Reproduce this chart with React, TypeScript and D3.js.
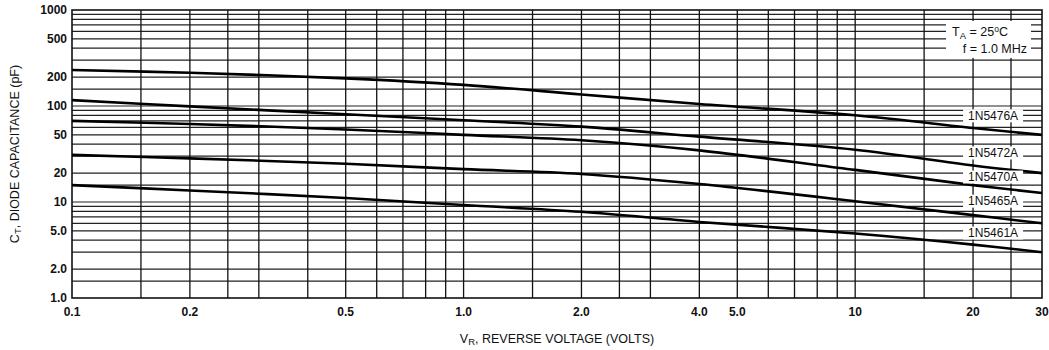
import { useEffect, useRef } from 'react';
import * as d3 from 'd3';

// reverse voltage sample points (volts)
const voltages = [0.1, 0.2, 0.5, 1.0, 2.0, 4.0, 10, 20, 30];

// capacitance (pF) per diode
const c1N5476A = [237, 222, 194, 166, 132, 105, 80, 59, 50];
const c1N5472A = [115, 99, 82, 71, 61, 48, 35, 24, 20];
const c1N5470A = [70, 65, 57, 50, 44, 34.5, 21.6, 15, 12.4];
const c1N5465A = [31, 28.5, 25, 22, 19.6, 15.4, 10.2, 7.3, 6.0];
const c1N5461A = [15, 13.2, 11, 9.3, 7.9, 6.2, 4.7, 3.6, 3.0];

const seriesNames = ['1N5476A', '1N5472A', '1N5470A', '1N5465A', '1N5461A'];
const seriesValues = [c1N5476A, c1N5472A, c1N5470A, c1N5465A, c1N5461A];
// where each curve's name sits (volts, pF)
const labelVolts = [22.5, 22.5, 22.5, 22.5, 22.5];
const labelCaps = [79, 32.4, 18.2, 10.2, 4.75];

const xTicks = [0.1, 0.2, 0.5, 1, 2, 4, 5, 10, 20, 30];
const xTickLabels = ['0.1', '0.2', '0.5', '1.0', '2.0', '4.0', '5.0', '10', '20', '30'];
const yTicks = [1000, 500, 200, 100, 50, 20, 10, 5, 2, 1];
const yTickLabels = ['1000', '500', '200', '100', '50', '20', '10', '5.0', '2.0', '1.0'];

const xGridMantissas = [1, 1.5, 2, 2.5, 3, 4, 5, 6, 7, 8, 9];
const yGridMantissas = [1, 1.5, 2, 3, 4, 5, 6, 7, 8, 9];

const width = 1049;
const height = 350;
const font = '"Liberation Sans", Arial, sans-serif';

export default function App() {
  const svgRef = useRef<SVGSVGElement>(null);

  useEffect(() => {
    if (!svgRef.current) return;
    d3.select(svgRef.current).selectAll('*').remove();

    const svg = d3.select(svgRef.current)
      .attr('width', width)
      .attr('height', height);

    svg.append('rect')
      .attr('width', width)
      .attr('height', height)
      .attr('fill', '#fff');

    const x = d3.scaleLog().domain([0.1, 30]).range([72, 1042]);
    const y = d3.scaleLog().domain([1, 1000]).range([298, 10]);

    // Grid
    const xGrid: number[] = [];
    [0.1, 1, 10].forEach(dec => xGridMantissas.forEach(m => {
      const v = +(m * dec).toPrecision(3);
      if (v > 0.1 && v < 30) xGrid.push(v);
    }));
    const yGrid: number[] = [];
    [1, 10, 100].forEach(dec => yGridMantissas.forEach(m => {
      const v = m * dec;
      if (v > 1 && v < 1000) yGrid.push(v);
    }));

    svg.append('g')
      .selectAll('line')
      .data(yGrid)
      .join('line')
      .attr('x1', 72)
      .attr('x2', 1042)
      .attr('y1', d => y(d))
      .attr('y2', d => y(d))
      .attr('stroke', '#222')
      .attr('stroke-width', 1.2);

    svg.append('g')
      .selectAll('line')
      .data(xGrid)
      .join('line')
      .attr('x1', d => x(d))
      .attr('x2', d => x(d))
      .attr('y1', 10)
      .attr('y2', 298)
      .attr('stroke', '#111')
      .attr('stroke-width', 1.3);

    // Frame
    svg.append('rect')
      .attr('x', 72)
      .attr('y', 10)
      .attr('width', 970)
      .attr('height', 288)
      .attr('fill', 'none')
      .attr('stroke', '#111')
      .attr('stroke-width', 1.6);

    // Curves
    const line = d3.line<number>()
      .x((_, i) => x(voltages[i]))
      .y(d => y(d))
      .curve(d3.curveCatmullRom.alpha(0.5));

    svg.append('g')
      .selectAll('path')
      .data(seriesValues)
      .join('path')
      .attr('d', d => line(d))
      .attr('fill', 'none')
      .attr('stroke', '#000')
      .attr('stroke-width', 2.6);

    // Curve labels
    seriesNames.forEach((name, i) => {
      const cx = x(labelVolts[i]);
      const cy = y(labelCaps[i]);
      svg.append('rect')
        .attr('x', cx - 30)
        .attr('y', cy - 6.5)
        .attr('width', 60)
        .attr('height', 13)
        .attr('fill', '#fff');
      svg.append('text')
        .attr('x', cx)
        .attr('y', cy)
        .attr('dy', '0.36em')
        .attr('text-anchor', 'middle')
        .attr('font-family', font)
        .attr('font-size', '12px')
        .attr('fill', '#111')
        .text(name);
    });

    // Conditions box
    svg.append('rect')
      .attr('x', 946)
      .attr('y', 21)
      .attr('width', 85)
      .attr('height', 37)
      .attr('fill', '#fff');

    const t1 = svg.append('text')
      .attr('x', 1008)
      .attr('y', 36)
      .attr('text-anchor', 'end')
      .attr('font-family', font)
      .attr('font-size', '12.5px')
      .attr('fill', '#111');
    t1.append('tspan').text('T');
    t1.append('tspan').attr('font-size', '9.5px').attr('dy', 3).text('A');
    t1.append('tspan').attr('dy', -3).text(' = 25');
    t1.append('tspan').attr('font-size', '8.5px').attr('dy', -4).text('o');
    t1.append('tspan').attr('dy', 4).text('C');

    svg.append('text')
      .attr('x', 1027)
      .attr('y', 53)
      .attr('text-anchor', 'end')
      .attr('font-family', font)
      .attr('font-size', '12.5px')
      .attr('fill', '#111')
      .text('f = 1.0 MHz');

    // Tick labels
    svg.append('g')
      .selectAll('text')
      .data(xTicks)
      .join('text')
      .attr('x', d => x(d))
      .attr('y', 312)
      .attr('dy', '0.36em')
      .attr('text-anchor', 'middle')
      .attr('font-family', font)
      .attr('font-size', '12px')
      .attr('font-weight', 'bold')
      .attr('fill', '#111')
      .text((_, i) => xTickLabels[i]);

    svg.append('g')
      .selectAll('text')
      .data(yTicks)
      .join('text')
      .attr('x', 67)
      .attr('y', d => y(d))
      .attr('dy', '0.36em')
      .attr('text-anchor', 'end')
      .attr('font-family', font)
      .attr('font-size', '12px')
      .attr('font-weight', 'bold')
      .attr('fill', '#111')
      .text((_, i) => yTickLabels[i]);

    // Axis titles
    const xt = svg.append('text')
      .attr('x', 557)
      .attr('y', 343)
      .attr('text-anchor', 'middle')
      .attr('font-family', font)
      .attr('font-size', '12.5px')
      .attr('fill', '#111');
    xt.append('tspan').text('V');
    xt.append('tspan').attr('font-size', '9.5px').attr('dy', 2).text('R');
    xt.append('tspan').attr('dy', -2).text(', REVERSE VOLTAGE (VOLTS)');

    const yt = svg.append('text')
      .attr('transform', 'translate(19,154) rotate(-90)')
      .attr('text-anchor', 'middle')
      .attr('font-family', font)
      .attr('font-size', '12.5px')
      .attr('fill', '#111');
    yt.append('tspan').text('C');
    yt.append('tspan').attr('font-size', '9.5px').attr('dy', 2).text('T');
    yt.append('tspan').attr('dy', -2).text(', DIODE CAPACITANCE (pF)');
  }, []);

  return (
    <svg
      ref={svgRef}
      style={{ position: 'absolute', left: 0, top: 0, display: 'block' }}
    />
  );
}
